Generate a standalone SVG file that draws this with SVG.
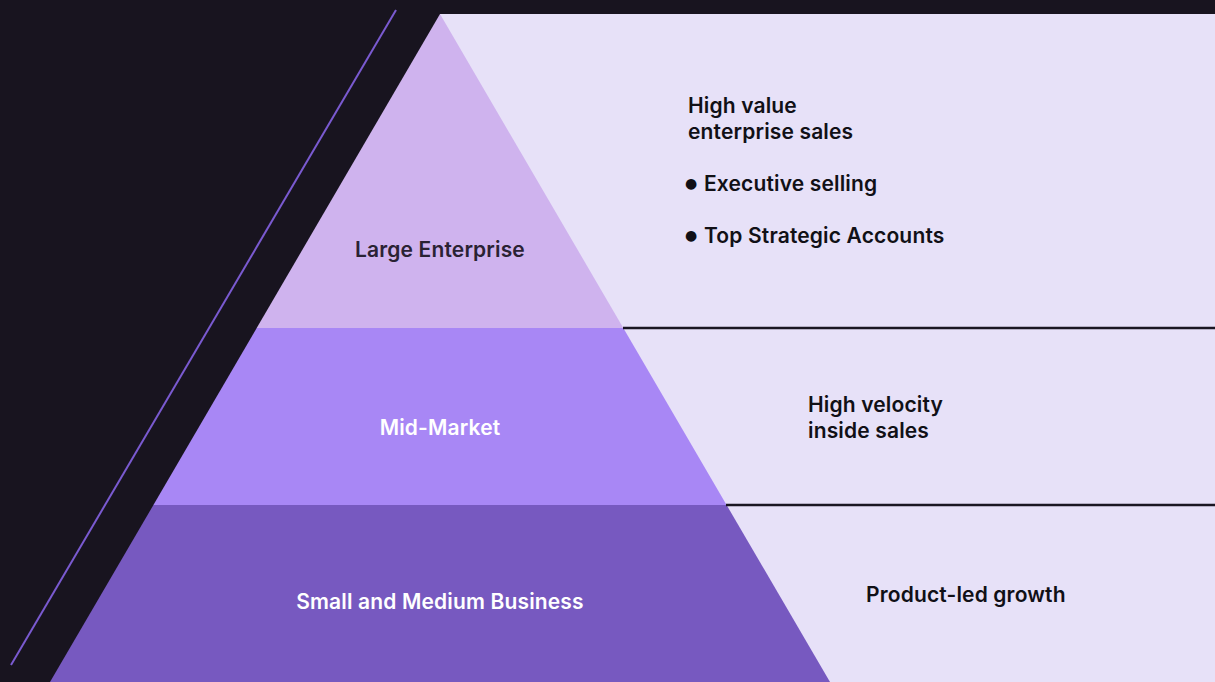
<svg xmlns="http://www.w3.org/2000/svg" width="1215" height="682" viewBox="0 0 1215 682">
<style>
.lbl{font-family:Inter,"Noto Sans","Liberation Sans",sans-serif;font-size:21px;font-weight:600;letter-spacing:0.15px;text-anchor:middle}
.txt{font-family:Inter,"Noto Sans","Liberation Sans",sans-serif;font-size:21px;font-weight:600;letter-spacing:0.15px;fill:#111016}
.sep{stroke:#1a1622;stroke-width:2.5}
.bul{font-family:"DejaVu Sans",sans-serif;font-size:14px}
</style>
<rect x="0" y="0" width="1215" height="682" fill="#18141f"/>
<rect x="440" y="14" width="775" height="668" fill="#e7e1f8"/>
<line x1="396" y1="10" x2="11" y2="665" stroke="#7a5ad0" stroke-width="2"/>
<g id="large-enterprise">
<polygon points="440,14 623.3,328 256.7,328" fill="#cfb3ee"/>
<text class="lbl" x="440" y="257" fill="#2a2233">Large Enterprise</text>
</g>
<g id="mid-market">
<polygon points="256.7,328 623.3,328 726.6,505 153.4,505" fill="#a887f5"/>
<text class="lbl" x="440" y="435" fill="#ffffff">Mid-Market</text>
</g>
<g id="smb">
<polygon points="153.4,505 726.6,505 830,682 50,682" fill="#7759c0"/>
<text class="lbl" x="440" y="609" fill="#ffffff">Small and Medium Business</text>
</g>
<g id="connectors">
<line class="sep" x1="623" y1="328" x2="1215" y2="328"/>
<line class="sep" x1="726" y1="505" x2="1215" y2="505"/>
</g>
<g id="enterprise-desc">
<text class="txt" x="688" y="113">High value</text>
<text class="txt" x="688" y="139">enterprise sales</text>
<text class="txt" x="685" y="191"><tspan class="bul" dy="-3">●</tspan><tspan x="704" dy="3">Executive selling</tspan></text>
<text class="txt" x="685" y="243"><tspan class="bul" dy="-3">●</tspan><tspan x="704" dy="3">Top Strategic Accounts</tspan></text>
</g>
<g id="mid-desc">
<text class="txt" x="808" y="412">High velocity</text>
<text class="txt" x="808" y="438">inside sales</text>
</g>
<g id="smb-desc">
<text class="txt" x="866" y="602">Product-led growth</text>
</g>
</svg>
